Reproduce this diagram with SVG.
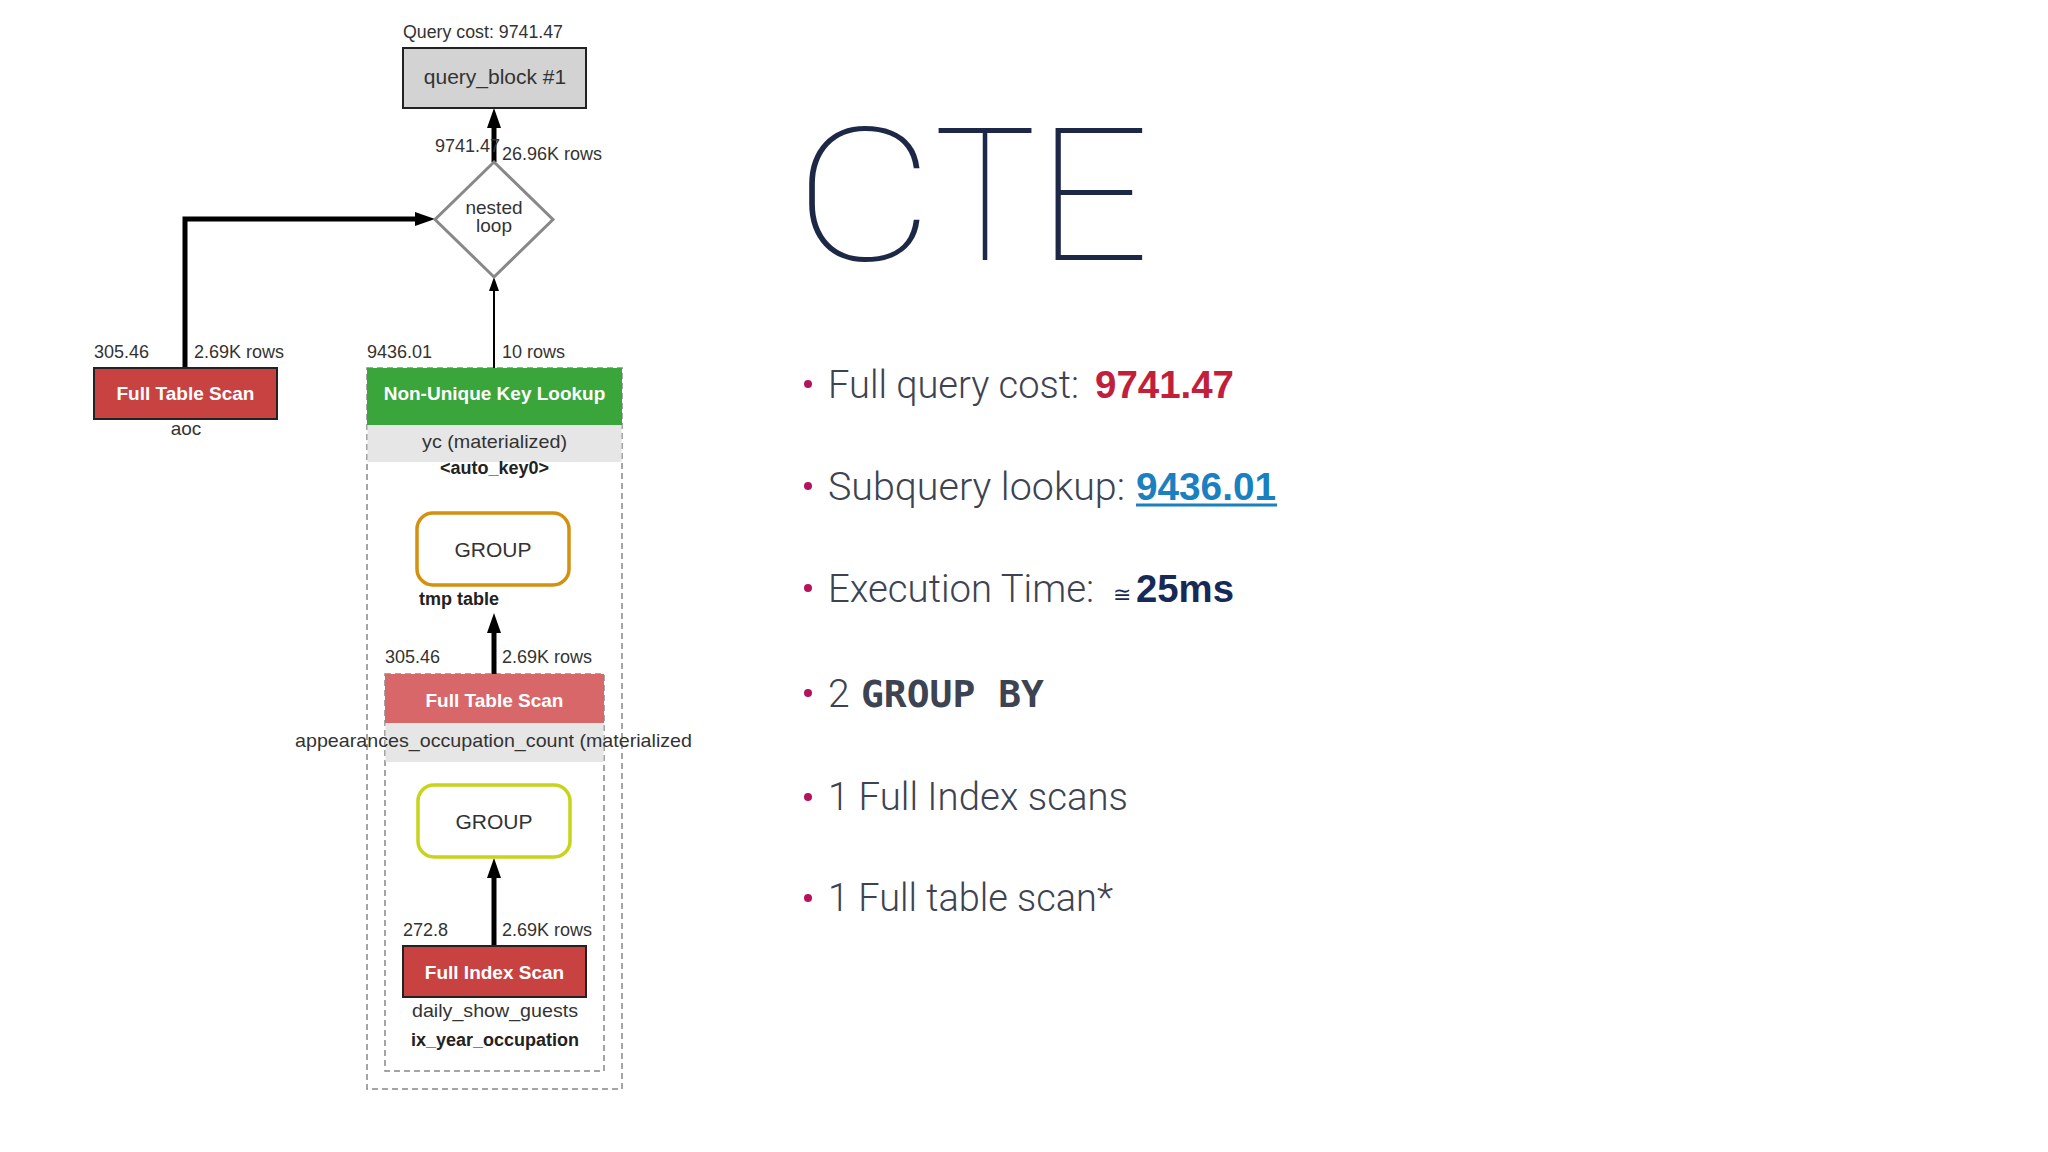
<svg xmlns="http://www.w3.org/2000/svg" width="2048" height="1152" viewBox="0 0 2048 1152">
<defs>
<marker id="ahThick" markerUnits="userSpaceOnUse" markerWidth="22" markerHeight="16" refX="0" refY="7" orient="auto"><path d="M0,0 L20,7 L0,14 z" fill="#000"/></marker>
<marker id="ahThin" markerUnits="userSpaceOnUse" markerWidth="16" markerHeight="12" refX="0" refY="5" orient="auto"><path d="M0,0 L14,5 L0,10 z" fill="#000"/></marker>
<style>
.lbl{font-family:"Liberation Sans",Arial,sans-serif;font-size:18px;fill:#333}
.sub{font-family:"Liberation Sans",Arial,sans-serif;font-size:19px;fill:#333}
.bold{font-family:"Liberation Sans",Arial,sans-serif;font-size:18px;font-weight:bold;fill:#222}
.ntitle{font-family:"Liberation Sans",Arial,sans-serif;font-size:19px;font-weight:bold;fill:#fff}
.thick{stroke:#000;stroke-width:5;fill:none}
.thin{stroke:#000;stroke-width:2;fill:none}
.dash{fill:none;stroke:#888;stroke-width:1.5;stroke-dasharray:6 4}
.red{fill:#c84242;stroke:#222;stroke-width:2}
.bul{font-family:Roboto,"Liberation Sans",sans-serif;font-weight:300;font-size:39px;fill:#3d4350}
.cte{font-family:Roboto,Lato,"Open Sans",sans-serif;font-weight:100;font-size:186px;fill:#1d2847}
.dot{fill:#b5135c}
</style>
</defs>
<rect width="2048" height="1152" fill="#fff"/>

<g id="clusters">
<rect class="dash" x="367" y="368" width="255" height="721"/>
<rect class="dash" x="385" y="674" width="219" height="397"/>
</g>

<g id="connectors">
<path class="thick" d="M494,162 L494,128" marker-end="url(#ahThick)"/>
<path class="thick" d="M185,368 L185,219 L415,219" marker-end="url(#ahThick)"/>
<path class="thin" d="M494,368 L494,291" marker-end="url(#ahThin)"/>
<path class="thick" d="M494,674 L494,633" marker-end="url(#ahThick)"/>
<path class="thick" d="M494,946 L494,878" marker-end="url(#ahThick)"/>
<text class="lbl" x="435" y="152">9741.47</text>
<text class="lbl" x="502" y="160">26.96K rows</text>
<text class="lbl" x="94" y="358">305.46</text>
<text class="lbl" x="194" y="358">2.69K rows</text>
<text class="lbl" x="367" y="358">9436.01</text>
<text class="lbl" x="502" y="358">10 rows</text>
<text class="lbl" x="385" y="663">305.46</text>
<text class="lbl" x="502" y="663">2.69K rows</text>
<text class="lbl" x="403" y="936">272.8</text>
<text class="lbl" x="502" y="936">2.69K rows</text>
</g>

<g id="query_block">
<text class="lbl" x="403" y="38" textLength="160" lengthAdjust="spacingAndGlyphs">Query cost: 9741.47</text>
<rect x="403" y="48" width="183" height="60" fill="#d3d3d3" stroke="#222" stroke-width="2"/>
<text class="lbl" x="495" y="84" text-anchor="middle" style="font-size:21px">query_block #1</text>
</g>

<g id="nested_loop">
<polygon points="494,162 553,219.5 494,277 435,219.5" fill="#fff" stroke="#888" stroke-width="3"/>
<text class="sub" x="494" y="214" text-anchor="middle">nested</text>
<text class="sub" x="494" y="232" text-anchor="middle">loop</text>
</g>

<g id="fts_aoc">
<rect class="red" x="94" y="368" width="183" height="51"/>
<text class="ntitle" x="185.5" y="400" text-anchor="middle">Full Table Scan</text>
<text class="sub" x="186" y="435" text-anchor="middle">aoc</text>
</g>

<g id="nukl_yc">
<rect x="367" y="368" width="255" height="57" fill="#3aa53a"/>
<text class="ntitle" x="494.5" y="400" text-anchor="middle">Non-Unique Key Lookup</text>
<rect x="367.5" y="425" width="254" height="37" fill="#e6e6e6"/>
<text class="sub" x="494.5" y="448" text-anchor="middle" textLength="145" lengthAdjust="spacingAndGlyphs">yc (materialized)</text>
<text class="bold" x="494.5" y="474" text-anchor="middle">&lt;auto_key0&gt;</text>
</g>

<g id="group1">
<rect x="417" y="513" width="152" height="72" rx="16" fill="#fff" stroke="#d4900f" stroke-width="3.5"/>
<text class="lbl" x="493" y="557" text-anchor="middle" style="font-size:21px">GROUP</text>
<text class="bold" x="419" y="605">tmp table</text>
</g>

<g id="fts_aoc2">
<rect x="385" y="674" width="219" height="49" fill="#d8676a"/>
<rect x="385.5" y="723" width="218" height="39" fill="#e6e6e6"/>
<text class="ntitle" x="494.5" y="707" text-anchor="middle">Full Table Scan</text>
<text class="sub" x="295" y="747" textLength="397" lengthAdjust="spacingAndGlyphs">appearances_occupation_count (materialized</text>
</g>

<g id="group2">
<rect x="418" y="785" width="152" height="72" rx="16" fill="#fff" stroke="#c8d41a" stroke-width="3.5"/>
<text class="lbl" x="494" y="829" text-anchor="middle" style="font-size:21px">GROUP</text>
</g>

<g id="fis_dsg">
<rect class="red" x="403" y="946" width="183" height="51"/>
<text class="ntitle" x="494.5" y="979" text-anchor="middle">Full Index Scan</text>
<text class="sub" x="495" y="1017" text-anchor="middle" textLength="166" lengthAdjust="spacingAndGlyphs">daily_show_guests</text>
<text class="bold" x="495" y="1046" text-anchor="middle">ix_year_occupation</text>
</g>

<g id="title">
<text class="cte" x="794" y="260" textLength="140" lengthAdjust="spacingAndGlyphs">C</text>
<text class="cte" x="934" y="260" textLength="102" lengthAdjust="spacingAndGlyphs">T</text>
<text class="cte" x="1036" y="260" textLength="114" lengthAdjust="spacingAndGlyphs">E</text>
</g>

<g id="bullets">
<circle class="dot" cx="808" cy="384" r="4"/>
<text class="bul" x="828" y="398" textLength="251" lengthAdjust="spacingAndGlyphs">Full query cost:</text>
<text x="1095" y="398" font-family="'Liberation Sans',Arial,sans-serif" font-weight="bold" font-size="39" fill="#c1203b" textLength="139" lengthAdjust="spacingAndGlyphs">9741.47</text>

<circle class="dot" cx="808" cy="486" r="4"/>
<text class="bul" x="828" y="500" textLength="297" lengthAdjust="spacingAndGlyphs">Subquery lookup:</text>
<text x="1136" y="500" font-family="'Liberation Sans',Arial,sans-serif" font-weight="bold" font-size="39" fill="#1a80c0" textLength="140" lengthAdjust="spacingAndGlyphs">9436.01</text>
<line x1="1136" y1="505" x2="1277" y2="505" stroke="#1a80c0" stroke-width="3"/>

<circle class="dot" cx="808" cy="588" r="4"/>
<text class="bul" x="828" y="602" textLength="266" lengthAdjust="spacingAndGlyphs">Execution Time:</text>
<text x="1113" y="602" font-family="'DejaVu Sans',sans-serif" font-size="22" fill="#172a57">≅</text>
<text x="1136" y="602" font-family="'Liberation Sans',Arial,sans-serif" font-weight="bold" font-size="39" fill="#172a57" textLength="98" lengthAdjust="spacingAndGlyphs">25ms</text>

<circle class="dot" cx="808" cy="693" r="4"/>
<text class="bul" x="828" y="707">2</text>
<text x="861" y="707" font-family="'DejaVu Sans Mono','Liberation Mono',monospace" font-weight="bold" font-size="37" fill="#3d4350" textLength="183" lengthAdjust="spacingAndGlyphs">GROUP BY</text>

<circle class="dot" cx="808" cy="797" r="4"/>
<text class="bul" x="828" y="810" textLength="300" lengthAdjust="spacingAndGlyphs">1 Full Index scans</text>

<circle class="dot" cx="808" cy="898" r="4"/>
<text class="bul" x="828" y="911" textLength="285" lengthAdjust="spacingAndGlyphs">1 Full table scan*</text>
</g>
</svg>
